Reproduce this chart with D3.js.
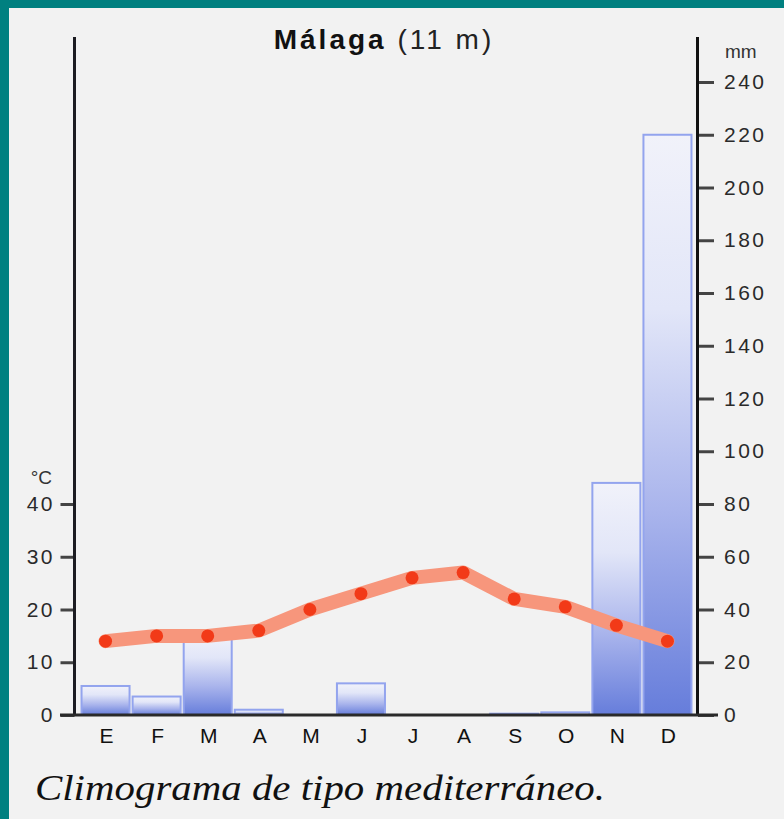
<!DOCTYPE html>
<html>
<head>
<meta charset="utf-8">
<script src="https://cdn.jsdelivr.net/npm/d3@7/dist/d3.min.js"></script>
<style>
  html, body { margin: 0; padding: 0; background: #f2f2f2; }
  svg { display: block; }
</style>
</head>
<body>
<script>
const months = ["E","F","M","A","M","J","J","A","S","O","N","D"];
const precipitation = [11, 7, 31, 2, 0, 12, 0, 0, 0.5, 1, 88, 220];
const temperature = [14, 15, 15, 16, 20, 23, 26, 27, 22, 20.5, 17, 14];
const tempTicks = [0, 10, 20, 30, 40];
const precipTicks = [0, 20, 40, 60, 80, 100, 120, 140, 160, 180, 200, 220, 240];
const titleBold = "Málaga";
const titleRest = " (11 m)";
const caption = "Climograma de tipo mediterráneo.";

const W = 784, H = 819;
const svg = d3.select("body").append("svg").attr("width", W).attr("height", H);

// background and teal frame
svg.append("rect").attr("width", W).attr("height", H).attr("fill", "#008080");
svg.append("rect").attr("x", 9).attr("y", 8).attr("width", W - 9).attr("height", H - 8).attr("fill", "#f2f2f2");

const x = d3.scaleBand().domain(d3.range(12)).range([80, 693]).paddingInner(0.06).paddingOuter(0.03);
const yP = d3.scaleLinear().domain([0, 240]).range([715, 82]);
const yT = d3.scaleLinear().domain([0, 120]).range([715, 82]);

const defs = svg.append("defs");
const grad = defs.append("linearGradient").attr("id", "barGrad")
  .attr("x1", 0).attr("y1", 0).attr("x2", 0).attr("y2", 1);
grad.append("stop").attr("offset", "0%").attr("stop-color", "#f1f2fa");
grad.append("stop").attr("offset", "30%").attr("stop-color", "#e2e6f8");
grad.append("stop").attr("offset", "65%").attr("stop-color", "#a9b4ec");
grad.append("stop").attr("offset", "100%").attr("stop-color", "#667ddb");

const sans = "'Liberation Sans', Arial, Helvetica, sans-serif";

// bars
svg.append("g").selectAll("rect").data(precipitation).join("rect")
  .attr("x", (d, i) => x(i))
  .attr("y", d => yP(d))
  .attr("width", x.bandwidth())
  .attr("height", d => yP(0) - yP(d))
  .attr("fill", "url(#barGrad)")
  .attr("stroke", d => d > 0 ? "#93a4ee" : "none")
  .attr("stroke-width", 2);

// left axis
const leftAxis = d3.axisLeft(yT).tickValues(tempTicks).tickSize(14).tickPadding(8).tickFormat(d3.format("d"));
const gl = svg.append("g").attr("transform", "translate(74.5,0)").call(leftAxis);
gl.select(".domain").remove();
gl.selectAll(".tick line").attr("stroke", "#444").attr("stroke-width", 3);
gl.selectAll(".tick text").attr("font-family", sans).attr("font-size", 21).attr("fill", "#2a2a2a")
  .attr("letter-spacing", 2.5).attr("dx", 2.5);
svg.append("line").attr("x1", 74.5).attr("x2", 74.5).attr("y1", 37).attr("y2", 715)
  .attr("stroke", "#1c1c22").attr("stroke-width", 3);
svg.append("text").attr("x", 52).attr("y", 484).attr("text-anchor", "end")
  .attr("font-family", sans).attr("font-size", 19).attr("fill", "#333").text("°C");

// right axis
const rightAxis = d3.axisRight(yP).tickValues(precipTicks).tickSize(16).tickPadding(10).tickFormat(d3.format("d"));
const gr = svg.append("g").attr("transform", "translate(698,0)").call(rightAxis);
gr.select(".domain").remove();
gr.selectAll(".tick line").attr("stroke", "#444").attr("stroke-width", 3);
gr.selectAll(".tick text").attr("font-family", sans).attr("font-size", 21).attr("fill", "#2a2a2a")
  .attr("letter-spacing", 2.5);
svg.append("line").attr("x1", 697.5).attr("x2", 697.5).attr("y1", 37).attr("y2", 715)
  .attr("stroke", "#111").attr("stroke-width", 3);
svg.append("text").attr("x", 725).attr("y", 58)
  .attr("font-family", sans).attr("font-size", 19).attr("fill", "#333").text("mm");

// baseline
svg.append("line").attr("x1", 60).attr("x2", 718).attr("y1", yP(0)).attr("y2", yP(0))
  .attr("stroke", "#2a2a2a").attr("stroke-width", 3);

// month labels
svg.append("g").selectAll("text").data(months).join("text")
  .attr("x", (d, i) => x(i) + x.bandwidth() / 2 + 1)
  .attr("y", 743)
  .attr("text-anchor", "middle")
  .attr("font-family", sans).attr("font-size", 21).attr("fill", "#111")
  .text(d => d);

// temperature line
const line = d3.line().x((d, i) => x(i) + x.bandwidth() / 2).y(d => yT(d));
svg.append("path").datum(temperature)
  .attr("d", line)
  .attr("fill", "none")
  .attr("stroke", "#f7967c")
  .attr("stroke-width", 14)
  .attr("stroke-linecap", "round")
  .attr("stroke-linejoin", "round");
svg.append("g").selectAll("circle").data(temperature).join("circle")
  .attr("cx", (d, i) => x(i) + x.bandwidth() / 2)
  .attr("cy", d => yT(d))
  .attr("r", 6.5)
  .attr("fill", "#f23a18");

// title
const t = svg.append("text").attr("x", 384).attr("y", 49).attr("text-anchor", "middle")
  .attr("font-family", sans).attr("font-size", 28).attr("fill", "#111").attr("letter-spacing", 3);
t.append("tspan").attr("font-weight", "bold").text(titleBold);
t.append("tspan").attr("fill", "#222").text(titleRest);

// caption
svg.append("text").attr("x", 35).attr("y", 800)
  .attr("font-family", "'Liberation Serif', 'Times New Roman', serif")
  .attr("font-style", "italic").attr("font-size", 36).attr("fill", "#111")
  .attr("textLength", 570).attr("lengthAdjust", "spacingAndGlyphs")
  .text(caption);
</script>
</body>
</html>
